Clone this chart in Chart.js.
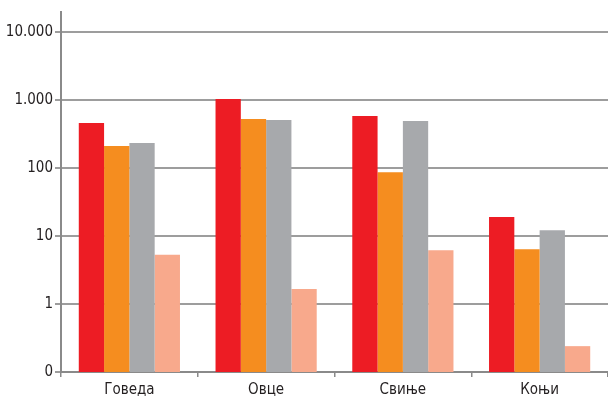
<!DOCTYPE html>
<html>
<head>
<meta charset="utf-8">
<script src="https://cdn.jsdelivr.net/npm/chart.js@4/dist/chart.umd.min.js"></script>
<style>
    html, body { margin: 0; padding: 0; background: #fff; }
    #wrap { width: 608px; height: 396px; position: relative; }
</style>
</head>
<body>
<div id="wrap"><canvas id="canvas"></canvas></div>
<script>
const categories = ['Говеда', 'Овце', 'Свиње', 'Коњи'];
const seriesRed = [459, 1035, 582, 19];
const seriesOrange = [211, 526, 87, 6.4];
const seriesGrey = [233, 508, 491, 12.2];
const seriesSalmon = [5.3, 1.66, 6.2, 0.24];
const tickValues = [0.1, 1, 10, 100, 1000, 10000];
const tickLabels = ['0', '1', '10', '100', '1.000', '10.000'];

const colors = {
    red: '#ED1C24',
    orange: '#F58D1F',
    grey: '#A7A9AC',
    salmon: '#F8A98C',
};

// 'condensed' goes into the weight slot so it ends up in the canvas font shorthand
const labelFont = "'DejaVu Sans', sans-serif";

function makeDataset(data, color) {
    return {
        data: data,
        backgroundColor: color,
        borderWidth: 0,
        barPercentage: 1,
        categoryPercentage: 0.74,
    };
}

const ctx = document.getElementById('canvas');
new Chart(ctx, {
    type: 'bar',
    data: {
        labels: categories,
        datasets: [
            makeDataset(seriesRed, colors.red),
            makeDataset(seriesOrange, colors.orange),
            makeDataset(seriesGrey, colors.grey),
            makeDataset(seriesSalmon, colors.salmon),
        ],
    },
    options: {
        responsive: true,
        maintainAspectRatio: false,
        animation: false,
        layout: { padding: { top: 12, right: 0, left: 0, bottom: 0 } },
        plugins: {
            legend: { display: false },
            tooltip: { enabled: false },
        },
        scales: {
            x: {
                offset: true,
                grid: {
                    offset: true,
                    drawOnChartArea: false,
                    color: '#8a8a8a',
                    lineWidth: 1.5,
                    tickLength: 5,
                },
                border: { color: '#8a8a8a', width: 2 },
                ticks: {
                    color: '#231f20',
                    padding: 4,
                    font: { family: labelFont, size: 15, weight: 'condensed' },
                },
                afterFit: function (scale) { scale.height = 24; },
            },
            y: {
                type: 'logarithmic',
                min: 0.1,
                max: 19700,
                afterBuildTicks: function (scale) {
                    scale.ticks = tickValues.map(v => ({ value: v }));
                },
                grid: {
                    color: '#9d9d9d',
                    lineWidth: 2,
                    tickLength: 6,
                },
                border: { color: '#8a8a8a', width: 2 },
                ticks: {
                    color: '#231f20',
                    padding: 2,
                    font: { family: labelFont, size: 15, weight: 'condensed' },
                    callback: function (value) {
                        const i = tickValues.indexOf(value);
                        return i >= 0 ? tickLabels[i] : '';
                    },
                },
                afterFit: function (scale) { scale.width = 61; },
            },
        },
    },
});
</script>
</body>
</html>
